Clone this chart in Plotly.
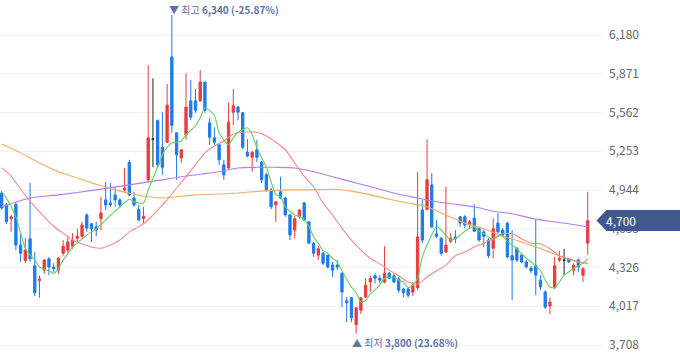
import plotly.graph_objects as go

# ---- daily candles (index 0 = oldest visible day) ----
opens = [4920, 4825, 4715, 4830, 4505, 4380, 4555, 4340, 4220, 4305,
         4395, 4330, 4305, 4440, 4465, 4495, 4560, 4575, 4745, 4675,
         4650, 4715, 4865, 4840, 4905, 4865, 4945, 5165, 4880, 4790,
         4715, 5025, 5350, 5500, 5285, 5325, 6005, 5400, 5200, 5385,
         5655, 5655, 5655, 5805, 5480, 5360, 5305, 5145, 5120, 5565,
         5605, 5560, 5245, 5205, 5265, 5165, 5065, 4945, 4825, 4930,
         4880, 4745, 4625, 4730, 4840, 4690, 4520, 4425, 4440, 4425,
         4345, 4345, 4280, 4060, 4085, 3870, 3985, 4090, 4210, 4260,
         4240, 4210, 4280, 4260, 4235, 4155, 4155, 4130, 4165, 4785,
         4790, 4985, 4595, 4560, 4450, 4535, 4570, 4730, 4730, 4665,
         4720, 4640, 4610, 4545, 4480, 4680, 4625, 4680, 4420, 4480,
         4425, 4370, 4320, 4340, 4225, 4130, 4020, 4165, 4385, 4385,
         4395, 4305, 4385, 4265, 4520]
highs = [4935, 4840, 4745, 4850, 4595, 4560, 5000, 4450, 4260, 4395,
         4410, 4360, 4410, 4545, 4575, 4600, 4635, 4690, 4760, 4680,
         4690, 4890, 5010, 5000, 4970, 4880, 5120, 5185, 4930, 4825,
         4810, 5940, 5835, 5500, 5565, 5790, 6340, 5405, 5265, 5875,
         5820, 5750, 5900, 5805, 5520, 5445, 5305, 5185, 5640, 5750,
         5615, 5565, 5350, 5255, 5345, 5175, 5080, 4960, 4855, 5050,
         4890, 4755, 4735, 4790, 4850, 4690, 4530, 4495, 4450, 4425,
         4370, 4385, 4290, 4090, 4090, 4010, 4090, 4240, 4260, 4280,
         4265, 4495, 4290, 4280, 4250, 4165, 4170, 4210, 5090, 4865,
         5350, 5080, 4705, 4570, 4970, 4600, 4625, 4735, 4745, 4705,
         4830, 4650, 4625, 4560, 4720, 4760, 4640, 4690, 4625, 4490,
         4435, 4385, 4340, 4705, 4265, 4145, 4085, 4410, 4460, 4475,
         4400, 4360, 4400, 4330, 4930]
lows = [4785, 4675, 4610, 4465, 4370, 4360, 4370, 4100, 4085, 4275,
        4265, 4290, 4275, 4420, 4440, 4475, 4530, 4560, 4610, 4530,
        4575, 4625, 4785, 4810, 4810, 4800, 4920, 4895, 4810, 4695,
        4680, 5010, 5125, 5125, 5065, 5320, 5400, 5025, 5160, 5345,
        5500, 5560, 5645, 5560, 5305, 5305, 5145, 5025, 5110, 5460,
        5500, 5270, 5205, 5090, 5165, 5000, 4930, 4790, 4690, 4870,
        4730, 4545, 4560, 4715, 4695, 4520, 4410, 4385, 4345, 4320,
        4250, 4305, 4010, 3890, 3890, 3800, 3955, 4085, 4130, 4200,
        4200, 4200, 4235, 4200, 4125, 4090, 4085, 4100, 4145, 4520,
        4785, 4640, 4560, 4420, 4440, 4520, 4520, 4650, 4640, 4640,
        4610, 4530, 4490, 4400, 4400, 4595, 4575, 4400, 4065, 4370,
        4360, 4320, 4280, 4105, 4145, 3995, 3955, 4155, 4370, 4265,
        4360, 4265, 4290, 4210, 4425]
closes = [4800, 4690, 4730, 4505, 4440, 4465, 4395, 4125, 4235, 4385,
          4330, 4315, 4400, 4495, 4530, 4545, 4575, 4665, 4640, 4635,
          4625, 4760, 4825, 4825, 4865, 4825, 4960, 4905, 4825, 4705,
          4735, 5360, 5350, 5145, 5125, 5620, 5460, 5225, 5265, 5605,
          5525, 5580, 5805, 5580, 5365, 5325, 5185, 5065, 5485, 5615,
          5565, 5285, 5215, 5245, 5205, 5025, 4945, 4810, 4850, 4880,
          4745, 4585, 4715, 4785, 4705, 4520, 4440, 4475, 4360, 4330,
          4305, 4330, 4130, 4045, 3925, 4005, 4085, 4185, 4240, 4240,
          4225, 4280, 4240, 4210, 4145, 4125, 4105, 4185, 4570, 4545,
          5025, 4650, 4575, 4440, 4505, 4560, 4555, 4680, 4665, 4690,
          4615, 4545, 4575, 4420, 4635, 4610, 4585, 4410, 4385, 4385,
          4370, 4330, 4300, 4265, 4170, 4010, 4050, 4340, 4400, 4385,
          4370, 4345, 4330, 4315, 4700]

# ---- moving averages (day index, price) ----
ma5_idx = [0, 1, 3, 4, 5, 6, 7, 8, 10, 11, 12, 13, 14, 15, 16, 18, 20, 22, 25, 27,
           28, 30, 31, 33, 34, 35, 36, 37, 38, 39, 40, 41, 42, 43, 45, 46, 48, 49, 50, 52,
           53, 54, 56, 57, 58, 59, 60, 62, 63, 64, 65, 66, 67, 68, 69, 70, 71, 72, 74, 75,
           76, 77, 78, 80, 81, 83, 84, 85, 86, 87, 88, 89, 90, 91, 92, 93, 95, 96, 97, 98,
           99, 100, 101, 102, 103, 104, 105, 106, 107, 108, 109, 110, 112, 114, 115, 116, 117, 118, 119, 120,
           121, 122, 123, 124]
ma5_val = [4930, 4880, 4730, 4600, 4480, 4425, 4385, 4330, 4300, 4280, 4315, 4385, 4435, 4490, 4520, 4585, 4635, 4705, 4810, 4870,
           4850, 4840, 4945, 5125, 5225, 5285, 5320, 5325, 5335, 5385, 5420, 5455, 5520, 5600, 5540, 5400, 5305, 5360, 5405, 5440,
           5385, 5280, 5125, 5010, 4910, 4890, 4810, 4745, 4735, 4705, 4655, 4570, 4520, 4460, 4440, 4400, 4370, 4300, 4170, 4125,
           4050, 4065, 4115, 4185, 4240, 4250, 4225, 4210, 4165, 4185, 4240, 4410, 4505, 4585, 4655, 4625, 4545, 4555, 4585, 4615,
           4640, 4650, 4615, 4595, 4570, 4545, 4575, 4575, 4535, 4505, 4475, 4435, 4370, 4300, 4225, 4170, 4165, 4210, 4265, 4290,
           4320, 4340, 4360, 4395]

ma20_idx = [0, 2, 4, 6, 8, 11, 13, 15, 17, 19, 21, 23, 25, 27, 29, 31, 33, 35, 37, 39,
            41, 43, 45, 47, 49, 51, 54, 56, 58, 60, 62, 64, 66, 68, 70, 72, 74, 76, 78, 80,
            82, 84, 86, 88, 90, 92, 94, 96, 98, 100, 102, 104, 106, 108, 110, 112, 114, 116, 118, 120,
            122, 124]
ma20_val = [5120, 5055, 4950, 4855, 4770, 4655, 4600, 4545, 4515, 4490, 4480, 4505, 4545, 4610, 4650, 4705, 4785, 4865, 4960, 5050,
            5145, 5240, 5295, 5335, 5390, 5405, 5405, 5375, 5325, 5265, 5160, 5055, 4970, 4840, 4745, 4640, 4545, 4465, 4400, 4355,
            4305, 4260, 4210, 4195, 4250, 4300, 4345, 4420, 4450, 4490, 4520, 4560, 4595, 4595, 4555, 4520, 4515, 4475, 4420, 4395,
            4370, 4360]

ma60_idx = [0, 4, 8, 12, 16, 20, 24, 28, 31, 34, 37, 41, 45, 50, 55, 60, 65, 70, 74, 78,
            82, 86, 90, 94, 98, 102, 106, 110, 114, 118, 122, 124]
ma60_val = [5310, 5240, 5160, 5090, 5040, 4990, 4945, 4910, 4890, 4880, 4890, 4905, 4910, 4920, 4935, 4945, 4945, 4950, 4935, 4905,
            4870, 4840, 4810, 4745, 4680, 4635, 4575, 4530, 4475, 4420, 4370, 4360]

ma120_idx = [0, 6, 12, 20, 27, 34, 38, 42, 46, 50, 54, 58, 62, 66, 70, 75, 80, 84, 88, 92,
             96, 100, 104, 108, 112, 116, 120, 124]
ma120_val = [4810, 4880, 4905, 4945, 4985, 5025, 5050, 5070, 5090, 5120, 5125, 5125, 5120, 5090, 5050, 5000, 4950, 4910, 4880, 4850,
             4830, 4810, 4775, 4755, 4720, 4695, 4675, 4650]

# ---- axis ticks and labels ----
tick_vals = [3708, 4017, 4326, 4635, 4944, 5253, 5562, 5871, 6180]
tick_text = [f"{v:,}" for v in tick_vals]
high_text = "▼ 최고 <b>6,340 (-25.87%)</b>"
low_text = "▲ 최저 <b>3,800 (23.68%)</b>"
last_price = 4700
last_text = "4,700"

UP, DOWN, FLAT = "#ec3b3f", "#1f7be9", "#222222"
FONT = "Noto Sans CJK KR, Noto Sans, sans-serif"

days = list(range(len(closes)))
fig = go.Figure()

# moving averages (drawn below candles)
for idx, val, col in [(ma120_idx, ma120_val, "#b37cf4"),
                      (ma60_idx, ma60_val, "#f7aa66"),
                      (ma20_idx, ma20_val, "#f48a8a"),
                      (ma5_idx, ma5_val, "#63d163")]:
    fig.add_trace(go.Scatter(x=idx, y=val, mode="lines",
                             line=dict(color=col, width=1.1, shape="spline", smoothing=0.6),
                             hoverinfo="skip"))

groups = {
    "up": [i for i in days if closes[i] > opens[i]],
    "down": [i for i in days if closes[i] < opens[i]],
    "flat": [i for i in days if closes[i] == opens[i]],
}
colors = {"up": UP, "down": DOWN, "flat": FLAT}
for name, ids in groups.items():
    c = colors[name]
    fig.add_trace(go.Candlestick(
        x=ids,
        open=[opens[i] for i in ids], high=[highs[i] for i in ids],
        low=[lows[i] for i in ids], close=[closes[i] for i in ids],
        increasing=dict(line=dict(color=c, width=1), fillcolor=c),
        decreasing=dict(line=dict(color=c, width=1), fillcolor=c),
        whiskerwidth=0, hoverinfo="skip"))

hi_i = highs.index(max(highs))
lo_i = lows.index(min(lows))
fig.add_annotation(x=hi_i, y=highs[hi_i], text=high_text, showarrow=False,
                   xanchor="left", yanchor="bottom", xshift=-5, yshift=-4,
                   font=dict(family=FONT, size=10, color="#5f71a9"))
fig.add_annotation(x=lo_i, y=lows[lo_i], text=low_text, showarrow=False,
                   xanchor="left", yanchor="top", xshift=-6,
                   font=dict(family=FONT, size=10, color="#5f71a9"))

# current price marker on the right axis
fig.add_shape(type="path", xref="paper", yref="y", xsizemode="pixel", ysizemode="pixel",
              xanchor=1, yanchor=last_price,
              path="M -6.5 0 L 3.5 10.5 L 80 10.5 L 80 -10.5 L 3.5 -10.5 Z",
              fillcolor="#42598f", line=dict(width=0), layer="above")
fig.add_annotation(xref="paper", yref="y", x=1, y=last_price, text=last_text,
                   showarrow=False, xanchor="left", xshift=1,
                   font=dict(family=FONT, size=12, color="white"))

fig.update_layout(
    width=680, height=358,
    margin=dict(l=0, r=77, t=0, b=0),
    paper_bgcolor="white", plot_bgcolor="white",
    showlegend=False, boxgap=0.3,
    xaxis=dict(range=[-0.36, 127.23], visible=False, rangeslider=dict(visible=False),
               showgrid=False, zeroline=False),
    yaxis=dict(range=[3604.4, 6459.1], side="right", tickvals=tick_vals, ticktext=tick_text,
               showgrid=True, gridcolor="#f1f1f6", gridwidth=1, zeroline=False, showline=False,
               ticks="", ticklabelstandoff=5,
               tickfont=dict(family=FONT, size=12, color="#666666")),
)

fig.write_html("out.html", config={"displayModeBar": False},
               post_script="document.body.style.margin='0';document.body.style.overflow='hidden';")
